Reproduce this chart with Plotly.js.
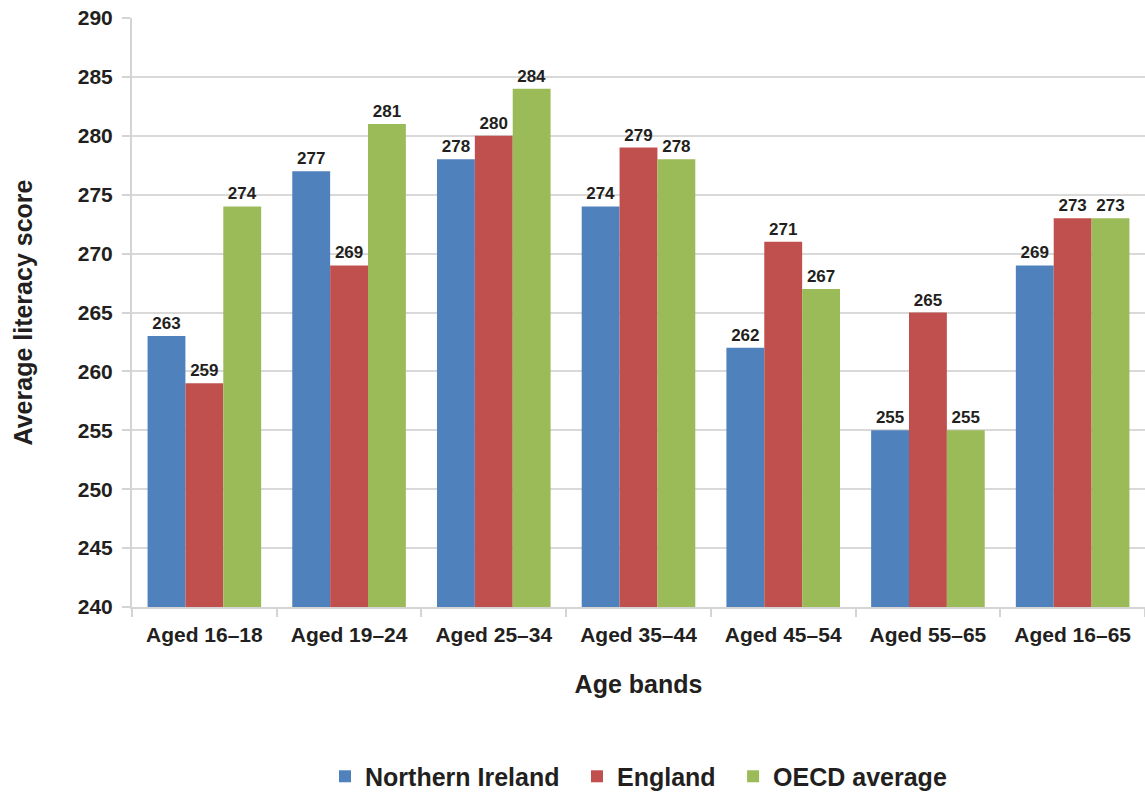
<!DOCTYPE html>
<html><head><meta charset="utf-8">
<script src="https://cdn.plot.ly/plotly-3.0.1.min.js"></script>
<style>html,body{margin:0;padding:0;background:#fff;overflow:hidden}</style>
</head><body>
<div id="chart" style="width:1145px;height:794px"></div>
<script>
const categories = ["Aged 16–18","Aged 19–24","Aged 25–34","Aged 35–44","Aged 45–54","Aged 55–65","Aged 16–65"];
const northernIreland = [263,277,278,274,262,255,269];
const england = [259,269,280,279,271,265,273];
const oecdAverage = [274,281,284,278,267,255,273];
const seriesNames = ["Northern Ireland","England","OECD average"];
const colors = ["#4F81BD","#C0504D","#9BBB59"];
const txt = "#231F20";
const font = "Arial, 'Liberation Sans', sans-serif";

const series = [northernIreland, england, oecdAverage];
const pad = ["\u2002","\u2002",""];
const traces = series.map((vals,i)=>({
  type:"bar", name:seriesNames[i] + pad[i], x:categories, y:vals,
  marker:{color:colors[i]},
  text:vals.map(String), textposition:"outside", textangle:0,
  constraintext:"none", cliponaxis:false,
  textfont:{family:font, size:17, color:txt, weight:"bold"},
  hoverinfo:"x+y"
}));

const layout = {
  width:1145, height:794,
  margin:{l:132, r:0, t:18, b:187},
  paper_bgcolor:"#fff", plot_bgcolor:"#fff",
  barmode:"group", bargap:0.215, bargroupgap:0,
  font:{family:font, color:txt},
  xaxis:{
    type:"category", tickson:"boundaries", ticks:"outside", ticklen:8, tickwidth:2, tickcolor:"#D4D4D4",
    showline:true, linecolor:"#D4D4D4", linewidth:2, showgrid:false, ticklabelstandoff:8,
    tickfont:{family:font, size:21, color:txt, weight:"bold"},
    title:{text:"Age bands", standoff:30, font:{family:font, size:25, color:txt, weight:"bold"}}
  },
  yaxis:{
    range:[240,290], dtick:5, tick0:240, ticks:"outside", ticklen:8, tickwidth:2, tickcolor:"#D4D4D4",
    showline:true, linecolor:"#D4D4D4", linewidth:2, ticklabelstandoff:5,
    showgrid:true, gridcolor:"#D9D9D9", gridwidth:2, zeroline:false,
    tickfont:{family:font, size:21, color:txt, weight:"bold"},
    title:{text:"Average literacy score", standoff:38, font:{family:font, size:25, color:txt, weight:"bold"}}
  },
  legend:{
    orientation:"h", x:0.5, xanchor:"center", yref:"container", y:0.022, yanchor:"middle",
    font:{family:font, size:25, color:txt, weight:"bold"},
    itemwidth:30, tracegroupgap:0
  },
  showlegend:true
};
Plotly.newPlot("chart", traces, layout, {displayModeBar:false, staticPlot:true});
</script>
</body></html>
